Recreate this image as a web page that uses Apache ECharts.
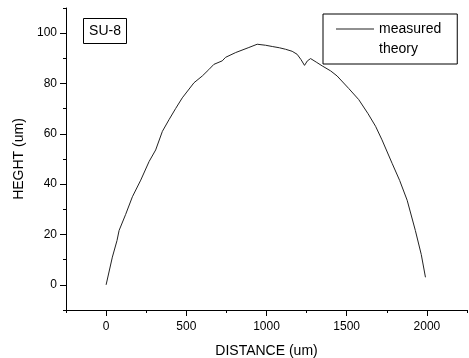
<!DOCTYPE html>
<html><head><meta charset="utf-8">
<script src="https://cdn.jsdelivr.net/npm/echarts@6/dist/echarts.min.js"></script>
<style>html,body{margin:0;padding:0;background:#fff}#c{width:469px;height:358px}</style>
</head><body><div id="c"></div>
<script>
var distance = [0, 39, 68, 81, 122, 164, 216, 268, 309, 351, 392, 433, 475, 548, 600, 640, 672, 724, 745, 808, 890, 942, 994, 1036, 1080, 1119, 1160, 1191, 1215, 1237, 1255, 1275, 1310, 1347, 1400, 1440, 1513, 1575, 1633, 1680, 1720, 1783, 1830, 1877, 1928, 1965, 1991];
var height   = [0, 11, 17.6, 21.6, 28, 35, 41.6, 49, 53.6, 61, 65.6, 70, 74.3, 80.3, 83, 85.5, 87.6, 89, 90.4, 92.3, 94.3, 95.6, 95.2, 94.7, 94.2, 93.6, 92.8, 91.6, 89.5, 87.2, 89, 89.9, 88.5, 87, 85, 83, 78, 73.6, 68, 63, 57.6, 48.3, 41.5, 33.6, 21.6, 12, 3];
var xTicks = [0, 500, 1000, 1500, 2000];
var yTicks = [0, 20, 40, 60, 80, 100];
var seriesNames = ['measured', 'theory'];
var panelLabel = 'SU-8';
var xName = 'DISTANCE (um)';
var yName = 'HEGHT (um)';

var font = 'Liberation Sans, Arial, sans-serif';
var chart = echarts.init(document.getElementById('c'), null, {renderer: 'canvas'});
var pts = distance.map(function (d, i) { return [d, height[i]]; });
var axLine = {show: true, onZero: false, lineStyle: {color: '#000', width: 1}};
var plain = function (v) { return String(v); };
chart.setOption({
  animation: false,
  backgroundColor: '#fff',
  grid: {left: 66, right: 2, top: 8, bottom: 48, containLabel: false, outerBoundsMode: 'none'},
  xAxis: [{
    type: 'value', min: -250, max: 2250, interval: 250,
    axisLine: axLine,
    axisTick: {show: true, length: 3, lineStyle: {color: '#000'}},
    axisLabel: {show: false},
    splitLine: {show: false}
  }, {
    type: 'value', position: 'bottom', min: -250, max: 2250,
    axisLine: {show: false, onZero: false},
    axisTick: {show: true, length: 6, customValues: xTicks, lineStyle: {color: '#000'}},
    axisLabel: {show: true, customValues: xTicks, formatter: plain, margin: 11, color: '#000', fontFamily: font, fontSize: 12},
    splitLine: {show: false},
    name: xName, nameLocation: 'middle', nameGap: 34,
    nameTextStyle: {color: '#000', fontFamily: font, fontSize: 14}
  }],
  yAxis: [{
    type: 'value', min: -10, max: 110, interval: 10,
    axisLine: axLine,
    axisTick: {show: true, length: 3, lineStyle: {color: '#000'}},
    axisLabel: {show: false},
    splitLine: {show: false}
  }, {
    type: 'value', position: 'left', min: -10, max: 110,
    axisLine: {show: false, onZero: false},
    axisTick: {show: true, length: 6, customValues: yTicks, lineStyle: {color: '#000'}},
    axisLabel: {show: true, customValues: yTicks, formatter: plain, margin: 9, color: '#000', fontFamily: font, fontSize: 12},
    splitLine: {show: false},
    name: yName, nameLocation: 'middle', nameGap: 33, nameRotate: 90,
    nameTextStyle: {color: '#000', fontFamily: font, fontSize: 14}
  }],
  legend: {
    orient: 'vertical', left: 323, top: 14,
    padding: [7, 16, 7, 13],
    borderColor: '#000', borderWidth: 1,
    itemWidth: 38, itemHeight: 1, itemGap: 4,
    icon: 'rect',
    textStyle: {color: '#000', fontFamily: font, fontSize: 14, lineHeight: 16},
    data: [
      {name: seriesNames[0]},
      {name: seriesNames[1], itemStyle: {opacity: 0}}
    ]
  },
  graphic: [{
    type: 'group', left: 83, top: 18,
    children: [
      {type: 'rect', shape: {x: 0, y: 0, width: 43, height: 25}, style: {fill: '#fff', stroke: '#000', lineWidth: 1}},
      {type: 'text', x: 21.5, y: 12.5, style: {text: panelLabel, fill: '#000', font: '14px ' + font, align: 'center', verticalAlign: 'middle'}}
    ]
  }],
  series: [{
    name: seriesNames[0], type: 'line', xAxisIndex: 0, yAxisIndex: 0,
    data: pts, symbol: 'none', smooth: false,
    lineStyle: {color: '#222', width: 1}, itemStyle: {color: '#222'}
  }, {
    name: seriesNames[1], type: 'line', xAxisIndex: 0, yAxisIndex: 0,
    data: [], symbol: 'none',
    lineStyle: {color: '#888', width: 1}, itemStyle: {color: '#888'}
  }]
});
</script></body></html>
